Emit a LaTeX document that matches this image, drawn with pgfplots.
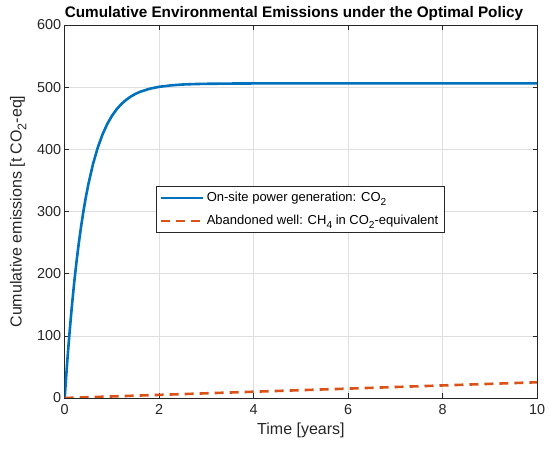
\documentclass[border=0pt]{standalone}
\usepackage{fontspec}
\setmainfont{Liberation Sans}
\usepackage{pgfplots}
\pgfplotsset{compat=1.18}
\definecolor{mblue}{rgb}{0,0.447,0.741}
\definecolor{morange}{rgb}{0.85,0.325,0.098}
\definecolor{axgray}{rgb}{0.15,0.15,0.15}
\newcommand\sub[1]{\raisebox{-0.55ex}{\scalebox{0.78}{#1}}}
\begin{document}
\begin{tikzpicture}[x=1pt,y=1pt]
\path[use as bounding box] (0,0) rectangle (550,450);
\begin{axis}[
  at={(64.7pt,52pt)}, anchor=south west,
  scale only axis, width=472.5pt, height=373pt,
  xmin=0, xmax=10, ymin=0, ymax=600,
  xtick={0,2,4,6,8,10}, ytick={0,100,200,300,400,500,600},
  /pgf/number format/assume math mode=true,
  tick label style={font=\fontsize{14.4}{17}\selectfont},
  ticklabel style={color=axgray},
  xticklabel style={yshift=-3pt},
  tick align=inside, tick pos=both,
  major tick length=4.5pt,
  every tick/.style={axgray, line width=0.5pt},
  axis line style={axgray, line width=0.6pt},
  grid=major,
  major grid style={gray!25, line width=0.5pt},
  title={\textbf{Cumulative Environmental Emissions under the Optimal Policy}},
  title style={font=\fontsize{15.3}{17}\selectfont, yshift=-5pt, xshift=-7pt},
  xlabel={Time [years]},
  ylabel={Cumulative emissions [t CO\sub{2}-eq]},
  label style={font=\fontsize{16}{19}\selectfont, color=axgray},
  xlabel style={yshift=-1pt},
  ylabel style={yshift=4pt},
  legend style={at={(0.193,0.568)}, anchor=north west, font=\fontsize{13}{15}\selectfont,
    draw=axgray, line width=0.6pt, row sep=8pt, inner xsep=4pt, inner ysep=4pt},
  legend cell align=left,
  legend image code/.code={\draw[#1] (0pt,0pt) -- (42pt,0pt);},
]
\addplot[mblue, line width=2.6pt] coordinates {
(0,0) (0.025,27.8) (0.05,54.3) (0.075,79.4) (0.1,102.9) (0.15,146.2) (0.2,184.8) (0.25,219.2)
(0.3,250.1) (0.35,277.5) (0.4,302.1) (0.45,324.0) (0.5,343.6) (0.6,376.6) (0.7,402.9)
(0.8,423.9) (0.9,440.6) (1.0,453.9) (1.1,464.5) (1.2,472.9) (1.3,479.6) (1.4,485.0)
(1.5,489.3) (1.6,492.7) (1.8,497.5) (2.0,500.6) (2.25,502.9) (2.5,504.3) (2.75,505.0) (3.0,505.4)
(3.5,505.8) (4.0,506) (5,506) (6,506) (7,506) (8,506) (9,506) (10,506)
};
\addlegendentry{On-site power generation: CO\sub{2}}
\addplot[morange, line width=2.6pt, dash pattern=on 9pt off 6pt] coordinates {
(0,0) (2,5.0) (4,10.1) (6,15.1) (8,20.2) (10,25.3)
};
\addlegendentry{Abandoned well: CH\sub{4} in CO\sub{2}-equivalent}
\end{axis}
\end{tikzpicture}
\end{document}
